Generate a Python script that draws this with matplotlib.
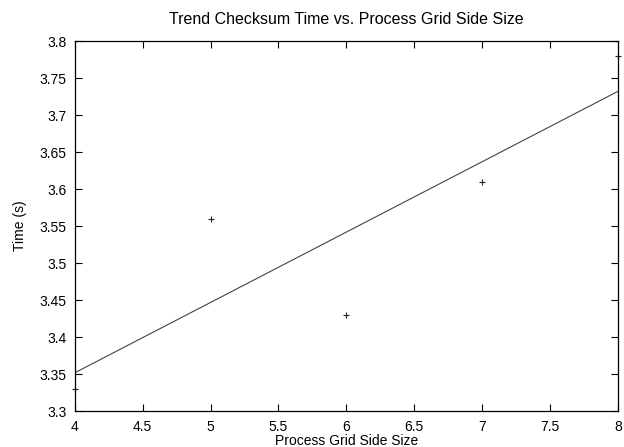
import numpy as np
import matplotlib
matplotlib.use("Agg")
import matplotlib.pyplot as plt

plt.rcParams['font.family'] = ['Liberation Sans', 'DejaVu Sans']

# measured checksum times per grid side size
grid_side = [4, 5, 6, 7, 8]
times = [3.33, 3.56, 3.43, 3.61, 3.78]

fig = plt.figure(figsize=(6.24, 4.47), dpi=100)
ax = fig.add_axes([0.120, 0.080, 0.870, 0.828])

# linear trend through the points
slope, icpt = np.polyfit(grid_side, times, 1)
xs = np.array([4, 8])
ax.plot(xs, slope * xs + icpt, color='#444444', lw=0.8)
ax.plot(grid_side, times, '+', color='#222222', ms=5, mew=0.8, clip_on=False)

ax.set_xlim(4, 8)
ax.set_ylim(3.3, 3.8)
ax.set_xticks(np.arange(4, 8.01, 0.5))
ax.set_yticks(np.arange(3.3, 3.801, 0.05))
ax.set_xticklabels(['4', '4.5', '5', '5.5', '6', '6.5', '7', '7.5', '8'])
ax.set_yticklabels(['3.3', '3.35', '3.4', '3.45', '3.5', '3.55', '3.6', '3.65',
                    '3.7', '3.75', '3.8'])
ax.tick_params(direction='in', top=True, right=True, length=5, width=0.8,
               labelsize=10, pad=6)
for s in ax.spines.values():
    s.set_linewidth(0.9)

ax.set_title('Trend Checksum Time vs. Process Grid Side Size', fontsize=11.5, pad=12)
ax.set_xlabel('Process Grid Side Size', fontsize=10, labelpad=0)
ax.set_ylabel('Time (s)', fontsize=10, labelpad=9)

fig.savefig('out.png', dpi=100)
